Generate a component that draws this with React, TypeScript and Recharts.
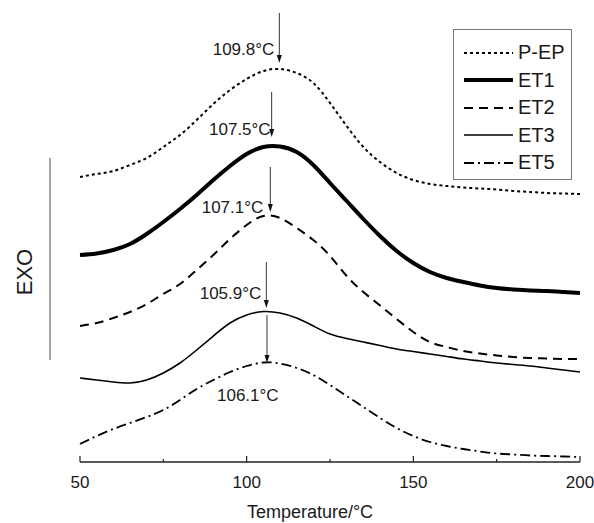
import React from 'react';
import { LineChart, Line, XAxis, YAxis, ReferenceLine, Legend } from 'recharts';

// temperature grid (°C)
const temps = [
  50, 55, 60, 65, 70, 75, 80, 85, 90, 95, 100, 105, 110, 115, 120, 125,
  130, 135, 140, 145, 150, 155, 160, 165, 170, 175, 180, 185, 190, 195, 200,
];

// heat flow, arbitrary units (curves are stacked with offsets)
const pep = [
  28.5, 28.8, 29.1, 29.7, 30.4, 31.5, 32.7, 34.2, 35.8, 37.2, 38.3, 39.1, 39.3, 38.9, 37.9, 35.9,
  33.6, 31.5, 30.0, 28.9, 28.2, 27.8, 27.6, 27.45, 27.35, 27.25, 27.1, 27.0, 26.9, 26.85, 26.8,
];
const et1 = [
  20.7, 20.85, 21.2, 21.8, 22.8, 24.0, 25.3, 26.7, 28.2, 29.6, 30.8, 31.5, 31.55, 31.0, 29.7, 27.9,
  26.1, 24.3, 22.6, 21.1, 19.9, 19.0, 18.4, 18.0, 17.65, 17.4, 17.25, 17.15, 17.1, 17.0, 16.9,
];
const et2 = [
  13.6, 13.9, 14.4, 15.0, 15.8, 16.8, 17.8, 19.2, 20.7, 22.3, 23.7, 24.6, 24.4, 23.4, 22.2, 20.6,
  18.6, 17.0, 15.65, 14.3, 13.0, 12.0, 11.5, 11.1, 10.85, 10.65, 10.5, 10.4, 10.35, 10.3, 10.3,
];
const et3 = [
  8.4, 8.2, 8.0, 7.9, 8.2, 8.9, 9.9, 11.2, 12.6, 13.9, 14.7, 15.05, 14.9, 14.4, 13.6, 12.8,
  12.35, 12.0, 11.65, 11.3, 11.05, 10.8, 10.55, 10.3, 10.1, 9.9, 9.75, 9.6, 9.4, 9.2, 9.0,
];
const et5 = [
  1.8, 2.6, 3.3, 3.9, 4.5, 5.2, 6.2, 7.3, 8.2, 9.0, 9.6, 9.95, 9.85, 9.4, 8.7, 7.7,
  6.6, 5.5, 4.4, 3.4, 2.6, 2.0, 1.6, 1.3, 1.05, 0.85, 0.75, 0.65, 0.6, 0.55, 0.5,
];

const seriesNames = ['P-EP', 'ET1', 'ET2', 'ET3', 'ET5'];
const peakTemps = [109.8, 107.5, 107.1, 105.9, 106.1];
const peakLabels = ['109.8°C', '107.5°C', '107.1°C', '105.9°C', '106.1°C'];
const arrowTop = [44.9, 37.0, 29.5, 20.0, 14.7];
const arrowTip = [39.9, 32.5, 25.0, 15.4, 9.9];

const xTicks = [50, 75, 100, 125, 150, 175, 200];
const majorTicks = [50, 100, 150, 200];

const data = temps.map((t, i) => ({
  t,
  'P-EP': pep[i],
  ET1: et1[i],
  ET2: et2[i],
  ET3: et3[i],
  ET5: et5[i],
}));

const FONT = '"Liberation Sans", Arial, sans-serif';
const INK = '#1a1a1a';

const styles: Record<string, { width: number; dash?: string }> = {
  'P-EP': { width: 2, dash: '3 3' },
  ET1: { width: 4 },
  ET2: { width: 2, dash: '9 6' },
  ET3: { width: 1.6 },
  ET5: { width: 1.8, dash: '10 4 2 4' },
};

// label placement relative to the arrow (pixels)
const labelPos = [
  { dx: -5, dy: -14, anchor: 'end' },
  { dx: -1, dy: -8, anchor: 'end' },
  { dx: -7, dy: -5, anchor: 'end' },
  { dx: -5, dy: -15, anchor: 'end' },
  { dx: -50, dy: 32, anchor: 'start' },
];

const arrowShape = (i: number) => (p: any) => {
  const { x1, y1, x2, y2 } = p;
  const lp = labelPos[i];
  return (
    <g>
      <line x1={x1} y1={y1} x2={x2} y2={y2 - 6} stroke="#333" strokeWidth={1} />
      <polygon points={`${x2 - 2.5},${y2 - 8} ${x2 + 2.5},${y2 - 8} ${x2},${y2}`} fill="#111" />
      <text
        x={x2 + lp.dx}
        y={y2 + lp.dy}
        textAnchor={lp.anchor as any}
        dominantBaseline="central"
        fontFamily={FONT}
        fontSize={17}
        fill={INK}
      >
        {peakLabels[i]}
      </text>
    </g>
  );
};

const exoShape = (p: any) => {
  const { x1, y1, x2, y2 } = p;
  const cy = 272;
  return (
    <g>
      <line x1={x1} y1={y1} x2={x2} y2={y2} stroke="#888" strokeWidth={1.5} />
      <text
        x={24}
        y={cy}
        transform={`rotate(-90 24 ${cy})`}
        textAnchor="middle"
        dominantBaseline="central"
        fontFamily={FONT}
        fontSize={22}
        fill={INK}
      >
        EXO
      </text>
    </g>
  );
};

const XTick = (props: any) => {
  const { x, y, payload } = props;
  const major = majorTicks.includes(payload.value);
  return (
    <g>
      <line x1={x} y1={y} x2={x} y2={y - (major ? 6 : 3)} stroke="#222" strokeWidth={1.2} />
      {major && (
        <text x={x} y={y + 20} textAnchor="middle" dominantBaseline="central" fontFamily={FONT} fontSize={17} fill={INK}>
          {payload.value}
        </text>
      )}
    </g>
  );
};

const XLabel = () => (
  <text x={310} y={512} textAnchor="middle" dominantBaseline="central" fontFamily={FONT} fontSize={18} fill={INK}>
    Temperature/°C
  </text>
);

const LegendBox = () => (
  <div
    style={{
      border: '1px solid #777',
      boxSizing: 'border-box',
      width: 119,
      height: 151,
      paddingTop: 9,
      background: '#fff',
      fontFamily: FONT,
      fontSize: 20,
      color: INK,
    }}
  >
    {seriesNames.map((n) => (
      <div key={n} style={{ display: 'flex', alignItems: 'center', height: 27.5 }}>
        <svg width={54} height={12} style={{ marginLeft: 10, flex: 'none' }}>
          <line
            x1={0}
            y1={6}
            x2={49}
            y2={6}
            stroke="#000"
            strokeWidth={styles[n].width}
            strokeDasharray={styles[n].dash}
          />
        </svg>
        <span style={{ lineHeight: '27px' }}>{n}</span>
      </div>
    ))}
  </div>
);

export default function App() {
  return (
    <div style={{ position: 'absolute', left: 0, top: 0, background: '#fff' }}>
      <LineChart width={594} height={523} data={data} margin={{ top: 0, right: 14, bottom: 0, left: 80 }}>
        <XAxis
          dataKey="t"
          type="number"
          domain={[50, 200]}
          ticks={xTicks}
          height={61}
          tickSize={0}
          tickMargin={0}
          tickLine={false}
          tick={<XTick />}
          axisLine={{ stroke: '#222', strokeWidth: 1.5 }}
          label={<XLabel />}
        />
        <YAxis hide width={0} domain={[0, 46.2]} />
        {seriesNames.map((n) => (
          <Line
            key={n}
            dataKey={n}
            type="natural"
            stroke="#000"
            strokeWidth={styles[n].width}
            strokeDasharray={styles[n].dash}
            dot={false}
            activeDot={false}
            isAnimationActive={false}
          />
        ))}
        {peakTemps.map((pt, i) => (
          <ReferenceLine
            key={'a' + i}
            segment={[
              { x: pt, y: arrowTop[i] },
              { x: pt, y: arrowTip[i] },
            ]}
            ifOverflow="visible"
            shape={arrowShape(i)}
          />
        ))}
        <ReferenceLine
          segment={[
            { x: 41, y: 30.4 },
            { x: 41, y: 10.2 },
          ]}
          ifOverflow="visible"
          shape={exoShape}
        />
        <Legend
          layout="horizontal"
          verticalAlign="middle"
          align="center"
          content={<LegendBox />}
          wrapperStyle={{ position: 'absolute', left: 453, top: 29, width: 119, height: 151 }}
        />
      </LineChart>
    </div>
  );
}
